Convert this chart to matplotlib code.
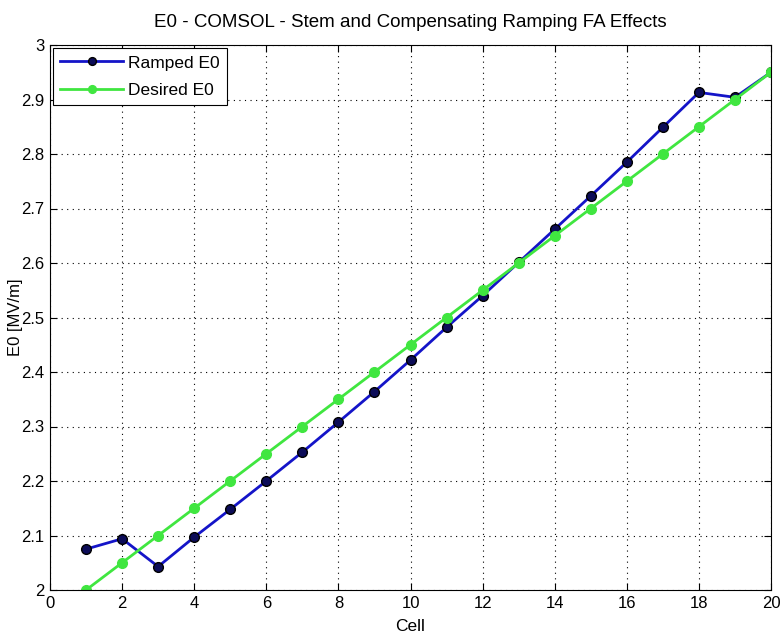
import numpy as np
import matplotlib.pyplot as plt

cells = list(range(1, 21))
ramped_e0 = [2.075, 2.094, 2.043, 2.097, 2.148, 2.200, 2.253, 2.308, 2.364, 2.422,
             2.482, 2.540, 2.601, 2.662, 2.723, 2.785, 2.849, 2.913, 2.904, 2.950]
desired_e0 = [2.00, 2.05, 2.10, 2.15, 2.20, 2.25, 2.30, 2.35, 2.40, 2.45,
              2.50, 2.55, 2.60, 2.65, 2.70, 2.75, 2.80, 2.85, 2.90, 2.95]
xticks = list(range(0, 21, 2))
yticks = [2, 2.1, 2.2, 2.3, 2.4, 2.5, 2.6, 2.7, 2.8, 2.9, 3]
ytick_labels = ["2", "2.1", "2.2", "2.3", "2.4", "2.5", "2.6", "2.7", "2.8", "2.9", "3"]

plt.rcParams['font.family'] = ['Liberation Sans Narrow', 'Liberation Sans', 'DejaVu Sans']
plt.rcParams['font.size'] = 12

fig = plt.figure(figsize=(7.83, 6.42), dpi=100)
ax = fig.add_axes([50/783, 52/642, 721/783, 545/642])

ax.plot(cells, ramped_e0, color='#1414c8', lw=2, marker='o', ms=7,
        mfc='#0c0c58', mec='black', mew=1, label='Ramped E0')
ax.plot(cells, desired_e0, color='#40e640', lw=2, marker='o', ms=7,
        mfc='#40e640', mec='#40e640', label='Desired E0')

ax.set_xlim(0, 20)
ax.set_ylim(2, 3)
ax.set_xticks(xticks)
ax.set_yticks(yticks)
ax.set_yticklabels(ytick_labels)
ax.tick_params(direction='in', top=True, right=True, length=5, labelsize=12, pad=4)
ax.grid(True, color='black', linestyle=(0, (1, 4)), lw=0.8)
ax.set_xlabel('Cell', fontsize=12.5, labelpad=6)
ax.set_ylabel('E0 [MV/m]', fontsize=12)
ax.yaxis.set_label_coords(-27/721, 0.5)
ax.set_title('E0 - COMSOL - Stem and Compensating Ramping FA Effects', fontsize=13.5, pad=13)

leg = ax.legend(loc='upper left', fancybox=False, edgecolor='black', framealpha=1,
                fontsize=12.5, handlelength=3.6, borderaxespad=0.2, borderpad=0.4,
                labelspacing=0.7, handletextpad=0.3, markerscale=0.8)
leg.get_frame().set_linewidth(0.8)

fig.savefig('out.png', dpi=100)
